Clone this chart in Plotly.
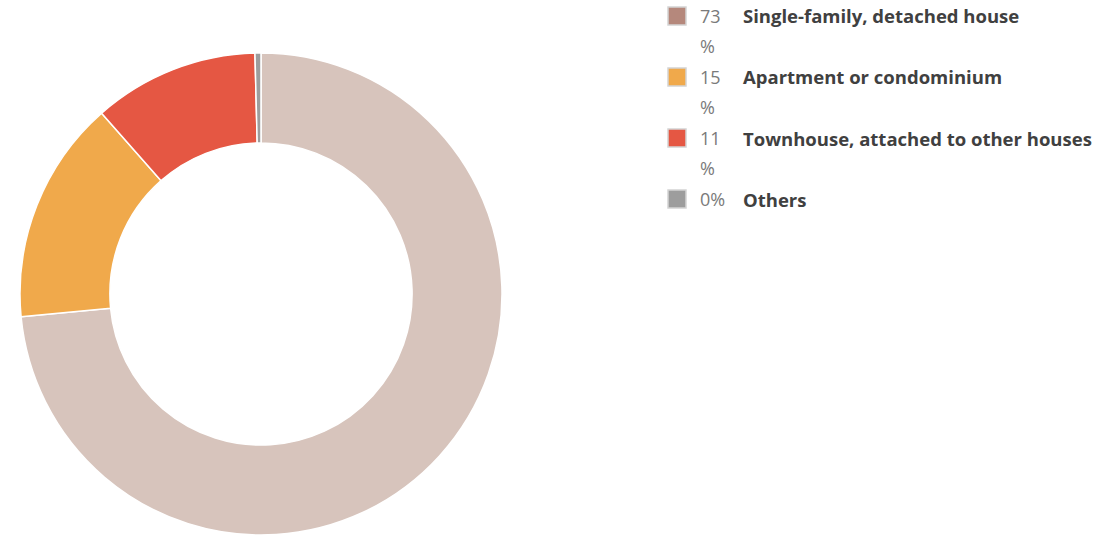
import plotly.graph_objects as go

categories = ["Single-family, detached house", "Apartment or condominium",
              "Townhouse, attached to other houses", "Others"]
values = [73.5, 15.0, 11.1, 0.4]
pct_labels = ["73", "15", "11", "0%"]
pct_suffix = ["%", "%", "%", ""]
slice_colors = ["#d7c4bc", "#f0a94b", "#e55743", "#9d9d9d"]
legend_colors = ["#b5887c", "#f0a94b", "#e55743", "#9d9d9d"]

W, H = 1119, 538


def px(x):
    return x / W


def py(y):
    return 1 - y / H


fig = go.Figure()
fig.add_trace(go.Pie(
    labels=categories, values=values, hole=0.627, sort=False,
    direction="clockwise", rotation=0,
    marker=dict(colors=slice_colors, line=dict(color="white", width=1.5)),
    textinfo="none", showlegend=False, hoverinfo="label+percent",
    domain=dict(x=[px(20), px(502)], y=[py(535), py(53)]),
))

row_y = [16, 77, 138, 199]
for i, cat in enumerate(categories):
    yc = row_y[i]
    fig.add_shape(type="rect", xref="paper", yref="paper",
                  x0=px(668), x1=px(686), y0=py(yc - 9), y1=py(yc + 9),
                  fillcolor=legend_colors[i], line=dict(color="#d4d4d4", width=1.5))
    fig.add_annotation(x=px(698), y=py(yc), xref="paper", yref="paper",
                       xanchor="left", yanchor="middle", showarrow=False,
                       text=pct_labels[i],
                       font=dict(family="Open Sans", size=18, color="#7a7a7a"))
    if pct_suffix[i]:
        fig.add_annotation(x=px(698), y=py(yc + 30), xref="paper", yref="paper",
                           xanchor="left", yanchor="middle", showarrow=False,
                           text=pct_suffix[i],
                           font=dict(family="Open Sans", size=18, color="#7a7a7a"))
    fig.add_annotation(x=px(741), y=py(yc), xref="paper", yref="paper",
                       xanchor="left", yanchor="middle", showarrow=False,
                       text="<b>" + cat + "</b>",
                       font=dict(family="Open Sans", size=18.5, color="#404040"))

fig.update_layout(
    width=W, height=H, margin=dict(l=0, r=0, t=0, b=0),
    paper_bgcolor="white", plot_bgcolor="white",
    font=dict(family="Open Sans"),
)
fig.write_html("out.html", config={"displayModeBar": False},
               post_script="document.body.style.margin='0';")
